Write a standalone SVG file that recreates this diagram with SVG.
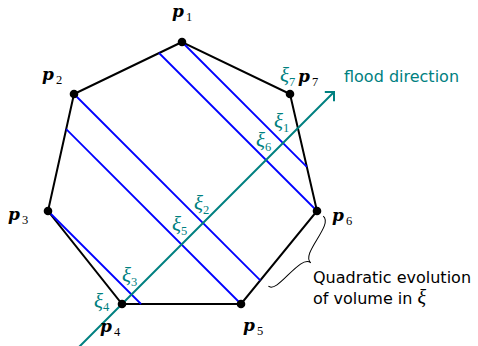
<svg xmlns="http://www.w3.org/2000/svg" width="478" height="346" viewBox="0 0 478 346">
<style>
.edge{fill:none;stroke:#000;stroke-width:2}
.blue{stroke:#0000ff;stroke-width:1.8;fill:none}
.teal{stroke:#008080;stroke-width:2;fill:none}
.dot{fill:#000}
.pv{font-family:"DejaVu Serif",serif;font-weight:bold;font-style:italic;font-size:17px;fill:#000}
.sub{font-family:"Liberation Serif",serif;font-size:12.5px;font-style:normal;font-weight:normal}
.xi{font-family:"Liberation Serif",serif;font-style:italic;font-size:21px;fill:#008080}
.note{font-family:"DejaVu Sans",sans-serif;font-size:16px;fill:#000}
.flood{font-family:"DejaVu Sans",sans-serif;font-size:16px;fill:#008080}
</style>
<defs>
<marker id="arr" markerUnits="userSpaceOnUse" markerWidth="20" markerHeight="20" viewBox="-10 -10 20 20" refX="0" refY="0" orient="auto">
<path d="M-6.5,-6.5 L0,0 L-6.5,6.5" fill="none" stroke="#008080" stroke-width="2"/>
</marker>
</defs>
<g id="polygon">
<polygon class="edge" points="182,42 74,94 48,211 122,304 241,304 317,211 290,94"/>
</g>
<g id="connectors">
<line class="blue" x1="182" y1="42" x2="306.8" y2="166.8"/>
<line class="blue" x1="159" y1="53" x2="317" y2="211"/>
<line class="blue" x1="74" y1="94" x2="260.3" y2="280.3"/>
<line class="blue" x1="66.2" y1="129.2" x2="241" y2="304"/>
<line class="blue" x1="48" y1="211" x2="141" y2="304"/>
<line class="teal" x1="79" y1="347" x2="334" y2="92" marker-end="url(#arr)"/>
</g>
<g id="p1"><circle class="dot" cx="182" cy="42" r="4.3"/><text class="pv" x="172" y="17">p<tspan class="sub" x="186" y="20.5">1</tspan></text></g>
<g id="p2"><circle class="dot" cx="74" cy="94" r="4.3"/><text class="pv" x="42" y="80">p<tspan class="sub" x="56" y="83.5">2</tspan></text></g>
<g id="p3"><circle class="dot" cx="48" cy="211" r="4.3"/><text class="pv" x="8" y="220">p<tspan class="sub" x="22" y="223.5">3</tspan></text></g>
<g id="p4"><circle class="dot" cx="122" cy="304" r="4.3"/><text class="pv" x="100" y="332">p<tspan class="sub" x="114" y="335.5">4</tspan></text></g>
<g id="p5"><circle class="dot" cx="241" cy="304" r="4.3"/><text class="pv" x="243" y="331">p<tspan class="sub" x="257" y="334.5">5</tspan></text></g>
<g id="p6"><circle class="dot" cx="317" cy="211" r="4.3"/><text class="pv" x="332" y="221">p<tspan class="sub" x="346" y="224.5">6</tspan></text></g>
<g id="p7"><circle class="dot" cx="290" cy="94" r="4.3"/><text class="pv" x="298" y="82">p<tspan class="sub" x="312" y="85.5">7</tspan></text></g>
<g id="xi-labels">
<text class="xi" x="274" y="128">ξ<tspan class="sub" x="283" y="132">1</tspan></text>
<text class="xi" x="194" y="210">ξ<tspan class="sub" x="203" y="214">2</tspan></text>
<text class="xi" x="122" y="282">ξ<tspan class="sub" x="131" y="286">3</tspan></text>
<text class="xi" x="94" y="308">ξ<tspan class="sub" x="103" y="311">4</tspan></text>
<text class="xi" x="172" y="231">ξ<tspan class="sub" x="181" y="235">5</tspan></text>
<text class="xi" x="256" y="147">ξ<tspan class="sub" x="265" y="151">6</tspan></text>
<text class="xi" x="280" y="82">ξ<tspan class="sub" x="289" y="86">7</tspan></text>
</g>
<text class="flood" x="344" y="82">flood direction</text>
<g id="brace">
<path d="M0,8 C0,22 44,14 44,28 C44,14 89,22 89,10" transform="matrix(-0.633 0.774 0.774 0.633 317 211)" fill="none" stroke="#000" stroke-width="1"/>
</g>
<g id="note">
<text class="note" x="313" y="283">Quadratic evolution</text>
<text class="note" x="313" y="304">of volume in <tspan font-family="Liberation Serif, serif" font-style="italic" font-size="20px">ξ</tspan></text>
</g>
</svg>
